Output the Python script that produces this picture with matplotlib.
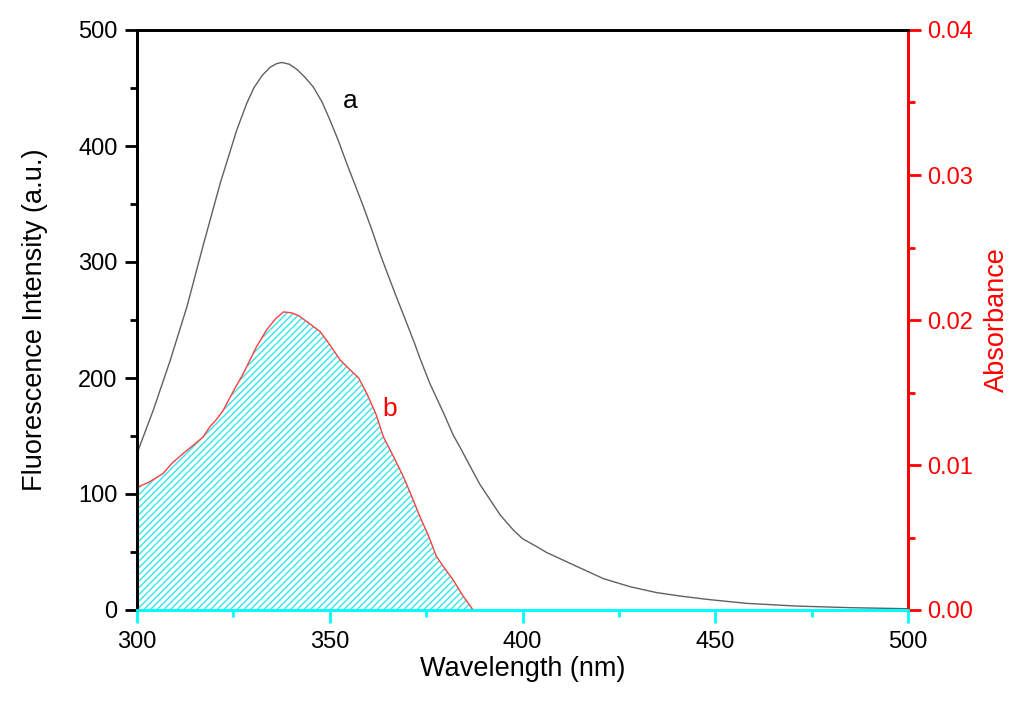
import matplotlib.pyplot as plt
from matplotlib.ticker import MultipleLocator
import numpy as np

plt.rcParams['font.family'] = ['Liberation Sans', 'DejaVu Sans']
plt.rcParams['hatch.color'] = '#33e6ee'
plt.rcParams['hatch.linewidth'] = 1.0

# curve a: fluorescence intensity (left axis)
wl_a = [300, 304.3, 308.6, 313, 317.3, 321.6, 325.9, 328.5, 330.3, 332.5,
        334.6, 336.2, 337.6, 339.5, 341.5, 343.5, 345.7, 348, 350.1, 352.3,
        354.4, 356.5, 358.7, 361, 363, 365.2, 367.4, 370, 372.1, 373.4, 376,
        379.5, 382, 384, 386.4, 389, 392.4, 394.2, 397.6, 400, 403.7, 406.3,
        412.3, 421, 428, 434.8, 441, 447.8, 458.2, 471.1, 485, 500]
fluo_a = [135, 173, 215, 262, 316, 368, 414, 437, 450, 461,
          468, 471, 472, 470.5, 466, 459.5, 451, 438, 422, 404,
          385, 367, 348, 327, 307.5, 288, 269, 247, 229, 217, 195,
          170, 151, 139, 124, 108, 91, 82, 69, 61.5, 54.6, 49.5,
          40.3, 27, 20, 15, 12, 9.2, 5.7, 3.4, 2.0, 1.1]

# curve b: absorbance (right axis)
wl_b = [300, 303, 306.8, 309, 312, 315, 317.2, 318.9, 320.5, 322.4, 325,
        327.6, 331, 333.6, 336, 338, 340, 341.8, 344, 347.5, 350, 352.7,
        355.3, 357.5, 359.6, 362, 363.9, 366.5, 369.1, 371, 373.4, 375.5,
        377.7, 380, 382, 384.5, 387.2]
abs_b = [0.00846, 0.0088, 0.00942, 0.0101, 0.0108, 0.01145, 0.01195, 0.01264,
         0.0131, 0.01379, 0.0151, 0.01632, 0.01816, 0.01931, 0.0201, 0.02056,
         0.0205, 0.02032, 0.0199, 0.0192, 0.0183, 0.01724, 0.01656, 0.0160,
         0.01494, 0.0135, 0.01195, 0.0106, 0.0092, 0.0080, 0.00643, 0.0052,
         0.00368, 0.0028, 0.00208, 0.0010, 0.0]

fig = plt.figure(figsize=(10.24, 7.05), dpi=100)
ax = fig.add_axes([137 / 1024, 1 - 610 / 705, 771 / 1024, 580 / 705])
ax2 = ax.twinx()

ax.plot(wl_a, fluo_a, color='#606060', lw=1.0)
ax2.fill_between(wl_b, abs_b, 0, facecolor='none', edgecolor='#33e6ee',
                 hatch='/////', lw=0)
ax2.plot(wl_b, abs_b, color='#ff4040', lw=1.0)

ax.set_xlim(300, 500)
ax.set_ylim(0, 500)
ax2.set_ylim(0, 0.04)

ax.xaxis.set_major_locator(MultipleLocator(50))
ax.xaxis.set_minor_locator(MultipleLocator(25))
ax.yaxis.set_major_locator(MultipleLocator(100))
ax.yaxis.set_minor_locator(MultipleLocator(50))
ax2.yaxis.set_major_locator(MultipleLocator(0.01))
ax2.yaxis.set_minor_locator(MultipleLocator(0.005))
ax2.yaxis.set_major_formatter(plt.FormatStrFormatter('%.2f'))

for a in (ax, ax2):
    for s in a.spines.values():
        s.set_linewidth(2)
    a.spines['left'].set_color('black')
    a.spines['top'].set_color('black')
    a.spines['right'].set_color('red')
    a.spines['bottom'].set_color('cyan')
    a.spines['bottom'].set_zorder(5)

ax.tick_params(axis='x', which='both', direction='out', colors='cyan',
               labelcolor='black', labelsize=17, width=2, pad=6)
ax.tick_params(axis='x', which='major', length=9)
ax.tick_params(axis='x', which='minor', length=5)
ax.tick_params(axis='y', which='both', direction='out', colors='black',
               labelsize=17, width=2, pad=5)
ax.tick_params(axis='y', which='major', length=9)
ax.tick_params(axis='y', which='minor', length=5)
ax2.tick_params(axis='y', which='both', direction='out', colors='red',
                labelsize=17, width=2, pad=5)
ax2.tick_params(axis='y', which='major', length=9)
ax2.tick_params(axis='y', which='minor', length=5)

ax.set_xlabel('Wavelength (nm)', fontsize=19.5, labelpad=2)
ax.set_ylabel('Fluorescence Intensity (a.u.)', fontsize=19.5, labelpad=22)
ax2.set_ylabel('Absorbance', fontsize=19.5, color='red', labelpad=8)

ax.text(355.3, 439, 'a', fontsize=19, color='black', ha='center', va='center')
ax.text(365.6, 173, 'b', fontsize=19, color='red', ha='center', va='center')

fig.savefig('out.png', dpi=100)
